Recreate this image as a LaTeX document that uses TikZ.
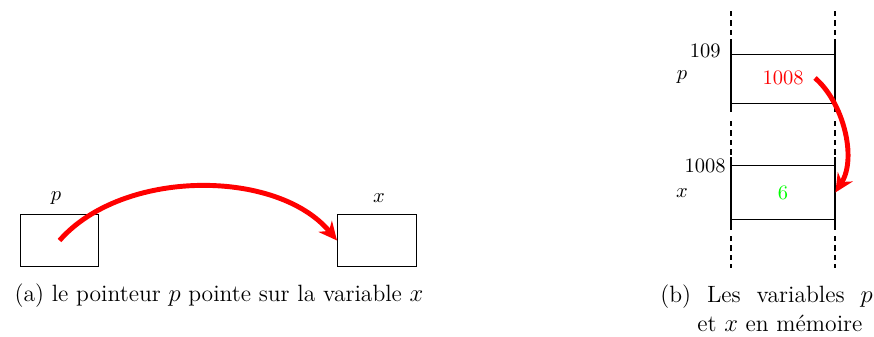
\documentclass[tikz,border=0pt]{standalone}
\usetikzlibrary{arrows.meta}
\begin{document}
\begin{tikzpicture}[x=0.4878pt,y=-0.4878pt,
  box/.style={draw,line width=0.5pt,minimum width=38.5pt,minimum height=25.8pt,inner sep=0pt},
  ptr/.style={red,line width=2.4pt,-{Stealth[length=9pt,width=8.5pt]}},
  dashv/.style={line width=0.8pt,dash pattern=on 2.6pt off 2pt},
  solidv/.style={line width=0.5pt},
  cell/.style={minimum width=50.7pt,inner sep=0pt},
  capfont/.style={font=\fontsize{11.5}{14}\selectfont}]
\useasboundingbox (0,0) rectangle (874,336);
% (a)
\node[box] (pa) at (59.5,240.5) {};
\node[box] (xa) at (377,240.5) {};
\node (lp) at (56,198) {$p$};
\node (lx) at (379,198) {$x$};
\draw[ptr] (pa.center) .. controls +(63,-72) and +(-60,-72) .. (xa.west);
\node[capfont] (capa) at (219,296) {(a) le pointeur $p$ pointe sur la variable $x$};
% (b)
\node[cell,minimum height=23.4pt] (cp) at (783,79) {};
\node[cell,minimum height=25.9pt] (cx) at (783,192.5) {};
\node[red] (vp) at (783,78) {1008};
\node[green] (vx) at (783,193) {6};
\coordinate (pstart) at (815,78);
\draw[solidv] (cp.north west) -- (cp.north east);
\draw[solidv] (cp.south west) -- (cp.south east);
\draw[solidv] (cx.north west) -- (cx.north east);
\draw[solidv] (cx.south west) -- (cx.south east);
\foreach \xx in {731,835}{
  \draw[dashv] (\xx,11) -- (\xx,45);
  \draw[solidv] (\xx,45) -- (\xx,112);
  \draw[dashv] (\xx,121) -- (\xx,157);
  \draw[solidv] (\xx,157) -- (\xx,230);
  \draw[dashv] (\xx,236) -- (\xx,268);
}
\node[anchor=east,inner sep=0pt] (a109) at (721,51) {109};
\node (np) at (682,77) {$p$};
\node[anchor=east,inner sep=0pt] (a1008) at (726,166) {1008};
\node (nx) at (682,193) {$x$};
\draw[ptr] (pstart) .. controls +(28,24) and +(22,-35) .. (cx.east);
\node[capfont,anchor=west,inner sep=0pt] (capb1) at (660,297) {\makebox[103.5pt][s]{(b) Les variables $p$}};
\node[capfont,anchor=west,inner sep=0pt] (capb2) at (697,323) {et $x$ en mémoire};
\end{tikzpicture}
\end{document}
